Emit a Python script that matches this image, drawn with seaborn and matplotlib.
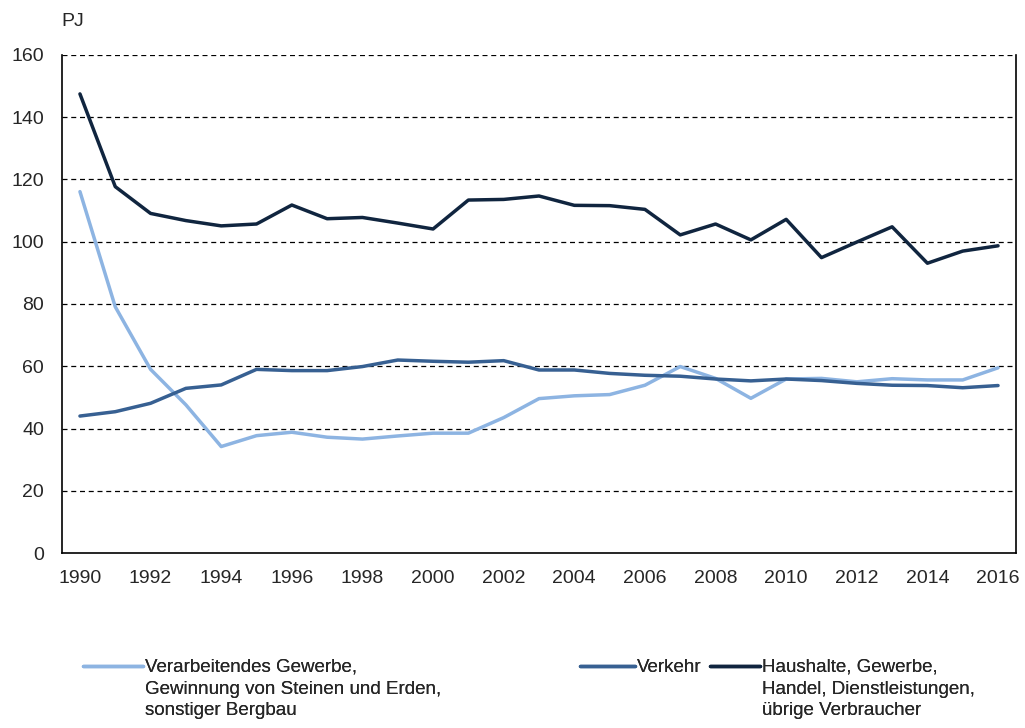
import matplotlib
matplotlib.use("Agg")
import matplotlib.pyplot as plt
import seaborn as sns
import pandas as pd
import numpy as np

years = list(range(1990, 2017))
verarbeitendes = [116.1, 79.1, 59.0, 47.6, 34.2, 37.7, 38.8, 37.2, 36.6, 37.6, 38.5, 38.5, 43.5,
                  49.6, 50.5, 50.9, 53.9, 59.9, 56.1, 49.7, 55.9, 56.1, 55.0, 56.0, 55.6, 55.6, 59.5]
verkehr = [44.0, 45.4, 48.1, 52.9, 54.0, 59.0, 58.6, 58.6, 59.9, 62.0, 61.6, 61.3, 61.8,
           58.8, 58.8, 57.7, 57.1, 56.8, 55.9, 55.3, 55.9, 55.4, 54.5, 53.9, 53.8, 53.1, 53.8]
haushalte = [147.5, 117.7, 109.1, 106.8, 105.1, 105.7, 111.8, 107.4, 107.8, 106.0, 104.1, 113.4, 113.6,
             114.7, 111.7, 111.6, 110.4, 102.2, 105.7, 100.6, 107.2, 94.9, 99.9, 104.8, 93.1, 97.0, 98.7]

labels = ["Verarbeitendes Gewerbe,\nGewinnung von Steinen und Erden,\nsonstiger Bergbau",
          "Verkehr",
          "Haushalte, Gewerbe,\nHandel, Dienstleistungen,\nübrige Verbraucher"]
colors = ["#8DB4E2", "#376092", "#10253F"]
yticks = [0, 20, 40, 60, 80, 100, 120, 140, 160]

df = pd.DataFrame({"idx": np.arange(len(years)), "year": years,
                   labels[0]: verarbeitendes, labels[1]: verkehr, labels[2]: haushalte})
long = df.melt(id_vars=["idx", "year"], var_name="serie", value_name="PJ")

sns.set_style("white")
plt.rcParams["font.family"] = ["Liberation Sans", "DejaVu Sans"]

W, H = 1025, 728
fig = plt.figure(figsize=(W / 100, H / 100), dpi=100)
ax = fig.add_axes([62.3 / W, 1 - 553 / H, (1015.7 - 62.3) / W, (553 - 55) / H])

for y in yticks[1:]:
    ax.axhline(y, color="black", lw=0.9, ls=(0, (4, 3)), zorder=1)

sns.lineplot(data=long, x="idx", y="PJ", hue="serie", hue_order=labels,
             palette=colors, linewidth=2.5, ax=ax, legend=False, zorder=3)

ax.set_xlim(-0.5, len(years) - 0.5)
ax.set_ylim(0, 160)
ax.set_yticks(yticks)
ax.set_yticklabels([str(v) for v in yticks], fontsize=14)
ax.set_xticks(np.arange(0, len(years), 2))
ax.set_xticklabels([str(y) for y in years[::2]], fontsize=14)
ax.set_xticks(np.arange(-0.5, len(years), 1), minor=True)
ax.tick_params(axis="x", which="major", length=0, pad=12)
ax.tick_params(axis="x", which="minor", length=5, width=1, color="black", direction="out")
ax.tick_params(axis="y", which="major", length=5, width=1, color="black", direction="out", pad=8)
ax.set_xlabel("")
ax.set_ylabel("")
for s in ["left", "bottom", "right"]:
    ax.spines[s].set_visible(True)
    ax.spines[s].set_color("black")
    ax.spines[s].set_linewidth(1.2)
ax.spines["top"].set_visible(False)

fig.text(61 / W, 1 - 21 / H, "PJ", fontsize=14, ha="left", va="center")

lines = ax.get_lines()[-3:]
specs = [(83, 3.2), (580, 2.95), (710, 2.65)]
fs = 13.5
for ln, lab, (x0, hl) in zip(lines, labels, specs):
    leg = fig.legend([ln], [lab], loc="upper left", bbox_to_anchor=(x0 / W, 1 - 659 / H),
                     frameon=False, fontsize=fs, handlelength=hl, handletextpad=0.1,
                     borderaxespad=0, borderpad=0, labelspacing=0.1)
    for t in leg.get_texts():
        t.set_linespacing(1.35)
    for col in leg._legend_handle_box.get_children():
        for hp in col.get_children():
            hp.align = "top"
    fig.add_artist(leg)

fig.savefig("out.png", dpi=100)
